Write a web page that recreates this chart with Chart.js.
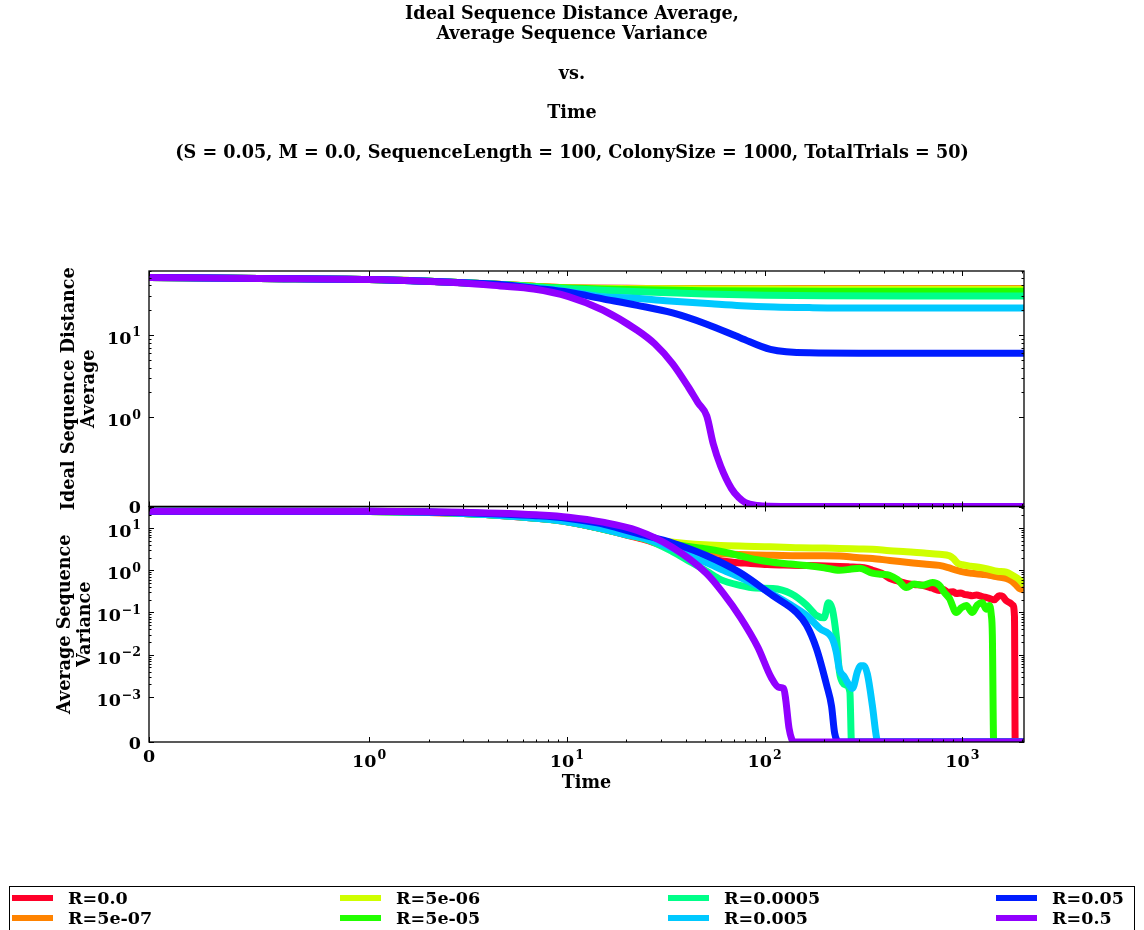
<!DOCTYPE html>
<html>
<head>
<meta charset="utf-8">
<script src="https://cdn.jsdelivr.net/npm/chart.js@4.4.1/dist/chart.umd.min.js"></script>
<style>
  html, body { margin: 0; padding: 0; background: #fff; }
  #wrap { position: relative; width: 1144px; height: 930px; overflow: hidden; background: #fff; }
  #c { position: absolute; left: 0; top: 0; }
  #legend { position: absolute; left: 9px; top: 886px; width: 1126px; height: 60px; border: 1px solid #000; box-sizing: border-box; }
  .sw { position: absolute; width: 41px; height: 6px; }
  .lt { position: absolute; font: bold 17.5px "DejaVu Serif"; line-height: 20px; color: #000; white-space: nowrap; }
</style>
</head>
<body>
<div id="wrap">
  <canvas id="c" width="1144" height="930" style="width:1144px;height:930px"></canvas>
  <div id="legend"></div>
</div>
<script>
// ---------------- data ----------------
const seriesLabels = ['R=0.0', 'R=5e-07', 'R=5e-06', 'R=5e-05', 'R=0.0005', 'R=0.005', 'R=0.05', 'R=0.5'];
const seriesColors = ['#ff0029', '#ff8300', '#cfff00', '#22ff00', '#00ff89', '#00c9ff', '#001cff', '#9100ff'];

const titleLines = ['Ideal Sequence Distance Average,', 'Average Sequence Variance', '', 'vs.', '', 'Time', '',
  '(S = 0.05, M = 0.0, SequenceLength = 100, ColonySize = 1000, TotalTrials = 50)'];
const topAxisTitle = ['Ideal Sequence Distance', 'Average'];
const botAxisTitle = ['Average Sequence', 'Variance'];
const xAxisTitle = 'Time';

const xMajorTicks = [0, 1, 10, 100, 1000];
const topMajorTicks = [0, 1, 10];
const botMajorTicks = [0, 0.001, 0.01, 0.1, 1, 10];

// Top panel: Ideal Sequence Distance Average
const distT_a = [0, 0.5, 1, 2, 3, 5, 7, 10, 15, 20, 30, 50, 100, 200, 500, 1000, 2050];
const dist_R0     = [50, 48.6, 47.2, 45.0, 43.3, 40.8, 38.8, 37.5, 37.0, 36.9, 36.8, 36.7, 36.6, 36.6, 36.5, 36.5, 36.5];
const dist_R5e_07 = [50, 48.6, 47.2, 45.0, 43.3, 40.8, 38.8, 37.5, 37.0, 36.8, 36.7, 36.6, 36.5, 36.4, 36.4, 36.4, 36.4];
const dist_R5e_06 = [50, 48.6, 47.2, 45.0, 43.3, 40.8, 38.8, 37.4, 36.8, 36.6, 36.4, 36.2, 36.1, 36.0, 36.0, 36.0, 36.0];
const dist_R5e_05 = [50, 48.6, 47.2, 45.0, 43.3, 40.8, 38.7, 37.2, 36.3, 35.8, 35.2, 34.6, 34.2, 34.0, 33.9, 33.9, 33.9];
const dist_R5e_04 = [50, 48.6, 47.2, 45.0, 43.2, 40.6, 38.4, 36.6, 35.0, 34.0, 32.8, 31.5, 30.5, 30.0, 29.8, 29.8, 29.8];
const distT_R5e_03 = [0, 0.5, 1, 2, 3, 5, 7, 10.2, 15.2, 21, 31.6, 54, 76, 112, 168, 300, 1000, 2050];
const dist_R5e_03  = [50, 48.6, 47.2, 45.0, 43.1, 40.3, 37.0, 33.6, 29.1, 28.2, 26.1, 23.9, 22.7, 21.9, 21.5, 21.2, 21.2, 21.2];
const distT_R5e_02 = [0, 0.5, 1, 2, 3, 4.6, 7, 10.2, 15.2, 22.7, 34.3, 51, 75.6, 107, 168, 300, 2050];
const dist_R5e_02  = [50, 48.6, 47.2, 45.0, 43.2, 41.0, 36.8, 33.0, 27.5, 22.9, 18.5, 13.5, 9.2, 6.67, 6.05, 6.0, 6.0];
const distT_R5e_01 = [0, 0.5, 1, 2, 3, 4.6, 6.8, 10.2, 15.2, 22.7, 27.8, 34.3, 41.3, 46, 51, 55, 60, 68, 74, 80, 92, 105, 130, 2050];
const dist_R5e_01  = [50, 48.6, 47.2, 44.8, 42.8, 39.4, 36.2, 29.3, 20.1, 11.4, 7.8, 4.45, 2.29, 1.5, 1.03, 0.7, 0.45, 0.2, 0.1, 0.044, 0.012, 0.002, 0.0003, 0];

// Bottom panel: Average Sequence Variance
const varT_R0 = [0, 1, 2, 3, 5, 8, 10, 15, 20, 25, 32, 40, 47, 57, 69, 85, 103, 125, 150, 190, 239, 270, 302, 330, 351, 390, 428, 470, 521, 570, 628, 700, 765, 800, 850, 900, 932, 980, 1020, 1070, 1123, 1180, 1250, 1300, 1368, 1450, 1537, 1600, 1667, 1740, 1800, 1835, 1850, 2050];
const var_R0  = [25, 24.5, 23.3, 22.0, 19.2, 16.0, 14.0, 9.5, 6.8, 5.2, 3.6, 2.8, 2.3, 1.75, 1.55, 1.45, 1.37, 1.33, 1.30, 1.27, 1.23, 1.2, 1.17, 1.1, 1.0, 0.85, 0.64, 0.56, 0.49, 0.46, 0.44, 0.38, 0.33, 0.35, 0.30, 0.31, 0.28, 0.29, 0.27, 0.26, 0.25, 0.26, 0.24, 0.23, 0.215, 0.2, 0.25, 0.24, 0.19, 0.17, 0.15, 0.08, 0, 0];
const varT_R5e_07 = [0, 1, 2, 3, 5, 8, 10, 15, 20, 25, 32, 40, 50, 60, 75, 90, 110, 150, 200, 239, 290, 351, 430, 521, 640, 765, 850, 932, 1020, 1123, 1250, 1368, 1500, 1667, 1780, 1875, 1940, 2050];
const var_R5e_07  = [25, 24.5, 23.3, 22.0, 19.3, 16.1, 14.1, 9.6, 7.0, 5.4, 4.0, 3.2, 2.75, 2.5, 2.35, 2.28, 2.25, 2.2, 2.2, 2.18, 2.0, 1.9, 1.7, 1.55, 1.4, 1.3, 1.15, 1.0, 0.9, 0.85, 0.8, 0.76, 0.7, 0.64, 0.55, 0.44, 0.37, 0.34];
const varT_R5e_06 = [0, 1, 2, 3, 5, 8, 10, 15, 20, 25, 32, 40, 50, 65, 80, 100, 125, 150, 200, 239, 300, 351, 430, 521, 640, 765, 860, 900, 950, 1000, 1100, 1250, 1368, 1500, 1667, 1800, 1940, 2050];
const var_R5e_06  = [25, 24.5, 23.4, 22.1, 19.4, 16.2, 14.2, 9.8, 7.2, 5.7, 4.8, 4.3, 4.0, 3.8, 3.7, 3.6, 3.5, 3.4, 3.35, 3.27, 3.2, 3.15, 2.9, 2.75, 2.55, 2.4, 2.2, 1.9, 1.45, 1.35, 1.25, 1.15, 1.05, 0.95, 0.9, 0.75, 0.6, 0.45];
const varT_R5e_05 = [0, 1, 2, 3, 5, 8, 10, 15, 20, 25, 32, 40, 51, 62, 75, 90, 110, 135, 163, 200, 239, 270, 302, 351, 390, 428, 470, 521, 570, 628, 706, 765, 810, 860, 932, 990, 1047, 1123, 1190, 1262, 1320, 1368, 1400, 1418, 1440, 2050];
const var_R5e_05  = [25, 24.5, 23.4, 22.1, 19.4, 16.2, 14.2, 9.7, 7.1, 5.6, 4.4, 3.7, 3.2, 2.7, 2.2, 1.8, 1.55, 1.4, 1.3, 1.15, 1.0, 1.05, 1.12, 0.85, 0.8, 0.76, 0.6, 0.39, 0.47, 0.44, 0.51, 0.44, 0.3, 0.215, 0.10, 0.13, 0.147, 0.10, 0.15, 0.17, 0.12, 0.147, 0.09, 0.03, 0, 0];
const varT_R5e_04 = [0, 1, 2, 3, 5, 8, 10, 15, 20, 25, 34, 42, 51, 60, 75, 90, 110, 136, 163, 183, 200, 210, 220, 231, 239, 248, 259, 270, 275, 2050];
const var_R5e_04  = [25, 24.5, 23.4, 22.1, 19.3, 16.0, 14.0, 9.6, 6.9, 5.4, 2.8, 1.6, 0.95, 0.6, 0.44, 0.38, 0.37, 0.28, 0.15, 0.085, 0.075, 0.17, 0.12, 0.025, 0.004, 0.0022, 0.0019, 0.0013, 0, 0];
const varT_R5e_03 = [0, 1, 2, 3, 5, 8, 10, 15, 20, 25, 34, 42, 51, 62, 75, 90, 110, 136, 163, 190, 220, 230, 239, 253, 268, 278, 295, 305, 318, 331, 351, 368, 375, 2050];
const var_R5e_03  = [25, 24.5, 23.4, 22.1, 19.3, 16.0, 14.0, 9.7, 7.0, 5.6, 3.3, 2.2, 1.5, 1.0, 0.68, 0.45, 0.27, 0.15, 0.085, 0.042, 0.024, 0.012, 0.0045, 0.003, 0.0019, 0.0016, 0.004, 0.0055, 0.0055, 0.0035, 0.0008, 0.0001, 0, 0];
const varT_R5e_02 = [0, 1, 2, 3, 4.6, 7, 10, 14.7, 18, 23.4, 34.3, 51, 75, 110, 145, 163, 183, 206, 218, 226, 239, 2050];
const var_R5e_02  = [25, 24.7, 24.0, 23.0, 21.5, 19.5, 17.0, 12.8, 10, 7.2, 4.4, 2.2, 0.88, 0.25, 0.1, 0.05, 0.014, 0.0019, 0.0008, 0.0002, 0, 0];
const varT_R5e_01 = [0, 1, 2, 3, 4.6, 7, 10.2, 15.2, 22.7, 34.1, 50.9, 62, 75.4, 92.5, 108, 118, 125, 128, 133, 141, 2050];
const var_R5e_01  = [25, 24.8, 24.3, 23.5, 22.4, 20.5, 18.0, 13.7, 8.7, 3.5, 0.84, 0.28, 0.077, 0.015, 0.0029, 0.0017, 0.0016, 0.00093, 0.0003, 0, 0];

const distSeries = [
  [distT_a, dist_R0], [distT_a, dist_R5e_07], [distT_a, dist_R5e_06], [distT_a, dist_R5e_05],
  [distT_a, dist_R5e_04], [distT_R5e_03, dist_R5e_03], [distT_R5e_02, dist_R5e_02], [distT_R5e_01, dist_R5e_01]
];
const varSeries = [
  [varT_R0, var_R0], [varT_R5e_07, var_R5e_07], [varT_R5e_06, var_R5e_06], [varT_R5e_05, var_R5e_05],
  [varT_R5e_04, var_R5e_04], [varT_R5e_03, var_R5e_03], [varT_R5e_02, var_R5e_02], [varT_R5e_01, var_R5e_01]
];

// ---------------- symlog scale ----------------
class SymlogScale extends Chart.Scale {
  parse(raw) {
    if (raw === null || raw === undefined) return null;
    const v = +raw;
    return isFinite(v) ? v : null;
  }
  determineDataLimits() {
    const mm = this.getMinMax(true);
    const o = this.options;
    this.min = (typeof o.min === 'number') ? o.min : mm.min;
    this.max = (typeof o.max === 'number') ? o.max : mm.max;
  }
  buildTicks() {
    const vals = this.options.majorValues || [];
    const out = [];
    for (let i = 0; i < vals.length; i++) {
      const v = vals[i];
      if (v >= this.min && v <= this.max) out.push({ value: v });
    }
    return out;
  }
  _tr(v) {
    const lt = this.options.linthresh, ld = this.options.linDecades;
    const a = Math.abs(v);
    const t = a <= lt ? (a / lt) * ld : ld + Math.log10(a / lt);
    return v < 0 ? -t : t;
  }
  _inv(t) {
    const lt = this.options.linthresh, ld = this.options.linDecades;
    const a = Math.abs(t);
    const v = a <= ld ? (a / ld) * lt : lt * Math.pow(10, a - ld);
    return t < 0 ? -v : v;
  }
  getPixelForValue(v) {
    const t0 = this._tr(this.min), t1 = this._tr(this.max);
    return this.getPixelForDecimal((this._tr(v) - t0) / (t1 - t0));
  }
  getValueForPixel(p) {
    const t0 = this._tr(this.min), t1 = this._tr(this.max);
    return this._inv(t0 + this.getDecimalForPixel(p) * (t1 - t0));
  }
  getPixelForTick(index) {
    const ticks = this.ticks;
    if (index < 0 || index > ticks.length - 1) return null;
    return this.getPixelForValue(ticks[index].value);
  }
  getLabelForValue(v) { return String(v); }
}
SymlogScale.id = 'symlog';
SymlogScale.defaults = {};
Chart.register(SymlogScale);

function minorValues(majors, max) {
  const out = [];
  majors.forEach(m => {
    if (m > 0) for (let k = 2; k < 10; k++) { const v = m * k; if (v <= max) out.push(v); }
  });
  return out;
}

const FONT = 'DejaVu Serif';
const BASE_PX = 17.5, EXP_PX = 12.5;

// label parts: base text and exponent text (mathtext-like 10^n)
function labelParts(v) {
  if (v === 0) return { base: '0', exp: '' };
  const e = Math.round(Math.log10(Math.abs(v)));
  return { base: '10', exp: String(e).replace('-', '\u2212') };
}
function measureLabel(ctx, parts) {
  ctx.font = 'bold ' + BASE_PX + 'px "' + FONT + '"';
  const wb = ctx.measureText(parts.base).width;
  let we = 0;
  if (parts.exp) { ctx.font = 'bold ' + EXP_PX + 'px "' + FONT + '"'; we = ctx.measureText(parts.exp).width + 1; }
  return { wb, we, w: wb + we };
}
function drawLabel(ctx, parts, xLeft, baseline) {
  const m = measureLabel(ctx, parts);
  ctx.textAlign = 'left';
  ctx.textBaseline = 'alphabetic';
  ctx.font = 'bold ' + BASE_PX + 'px "' + FONT + '"';
  ctx.fillText(parts.base, xLeft, baseline);
  if (parts.exp) {
    ctx.font = 'bold ' + EXP_PX + 'px "' + FONT + '"';
    ctx.fillText(parts.exp, xLeft + m.wb + 1, baseline - 7.5);
  }
}

// ---------------- frames, inward ticks, tick labels ----------------
const frameTicks = {
  id: 'frameTicks',
  afterDatasetsDraw(chart) {
    const ctx = chart.ctx;
    const xs = chart.scales.x;
    const panels = [chart.scales.yTop, chart.scales.yBot];
    const xMin = minorValues(xMajorTicks, xs.max);
    ctx.save();
    ctx.strokeStyle = '#000';
    panels.forEach(ys => {
      const L = xs.left, R = xs.right, T = ys.top, B = ys.bottom;
      const yMajors = ys.options.majorValues;
      const yMin = minorValues(yMajors, ys.max);
      ctx.lineWidth = 1;
      ctx.beginPath();
      const tk = (len, vals, horiz) => {
        vals.forEach(v => {
          if (horiz) {
            if (v < xs.min || v > xs.max) return;
            const p = Math.round(xs.getPixelForValue(v)) + 0.5;
            ctx.moveTo(p, B); ctx.lineTo(p, B - len);
            ctx.moveTo(p, T); ctx.lineTo(p, T + len);
          } else {
            if (v < ys.min || v > ys.max) return;
            const p = Math.round(ys.getPixelForValue(v)) + 0.5;
            ctx.moveTo(L, p); ctx.lineTo(L + len, p);
            ctx.moveTo(R, p); ctx.lineTo(R - len, p);
          }
        });
      };
      tk(5, xMajorTicks, true);
      tk(2.5, xMin, true);
      tk(5, yMajors, false);
      tk(2.5, yMin, false);
      ctx.stroke();
      ctx.lineWidth = 1.3;
      ctx.strokeRect(L, T, R - L, B - T);
    });
    ctx.restore();
  },
  afterDraw(chart) {
    const ctx = chart.ctx;
    const xs = chart.scales.x;
    ctx.save();
    ctx.fillStyle = '#000';
    [chart.scales.yTop, chart.scales.yBot].forEach(ys => {
      ys.options.majorValues.forEach(v => {
        if (v < ys.min || v > ys.max) return;
        const p = ys.getPixelForValue(v);
        const parts = labelParts(v);
        const m = measureLabel(ctx, parts);
        const baseline = p + (parts.exp ? 9 : 6.5);
        drawLabel(ctx, parts, xs.left - 8 - m.w, baseline);
      });
    });
    const top = xs.top + 7.5;
    xMajorTicks.forEach(v => {
      if (v < xs.min || v > xs.max) return;
      const p = xs.getPixelForValue(v);
      const parts = labelParts(v);
      const m = measureLabel(ctx, parts);
      const baseline = top + (parts.exp ? 17 : 12.8);
      drawLabel(ctx, parts, p - m.w / 2, baseline);
    });
    ctx.restore();
  }
};

// ---------------- datasets ----------------
const datasets = [];
distSeries.forEach((s, i) => {
  datasets.push({
    label: seriesLabels[i],
    data: s[0].map((t, j) => ({ x: t, y: s[1][j] })),
    yAxisID: 'yTop', xAxisID: 'x',
    borderColor: seriesColors[i], backgroundColor: seriesColors[i],
    borderWidth: 7, pointRadius: 0, fill: false,
    cubicInterpolationMode: 'monotone', borderCapStyle: 'butt', borderJoinStyle: 'round',
    order: 20 - i,
    clip: 0
  });
});
varSeries.forEach((s, i) => {
  datasets.push({
    label: seriesLabels[i],
    data: s[0].map((t, j) => ({ x: t, y: s[1][j] })),
    yAxisID: 'yBot', xAxisID: 'x',
    borderColor: seriesColors[i], backgroundColor: seriesColors[i],
    borderWidth: 7, pointRadius: 0, fill: false,
    cubicInterpolationMode: 'monotone', borderCapStyle: 'butt', borderJoinStyle: 'round',
    order: 10 - i,
    clip: 0
  });
});

const titleFont = { family: FONT, size: 17.6, weight: 'bold', lineHeight: 1.125 };

new Chart(document.getElementById('c'), {
  type: 'line',
  data: { datasets },
  plugins: [frameTicks],
  options: {
    responsive: false,
    animation: false,
    devicePixelRatio: 1,
    events: [],
    layout: { padding: { left: 0, right: 0, top: 0, bottom: 128 } },
    plugins: {
      legend: { display: false },
      tooltip: { enabled: false },
      title: {
        display: true, text: titleLines, color: '#000', font: titleFont,
        padding: { top: 5, bottom: 107.6 }
      }
    },
    scales: {
      x: {
        type: 'symlog', position: 'bottom', min: 0, max: 2050,
        linthresh: 1, linDecades: 1.113, majorValues: xMajorTicks,
        grid: { display: false, drawTicks: false }, border: { display: false },
        ticks: { display: false },
        title: { display: true, text: xAxisTitle, color: '#000', font: titleFont, padding: { top: 0, bottom: 9 } },
        afterFit: (s) => { s.height = 60; }
      },
      yBot: {
        type: 'symlog', position: 'left', stack: 'panels', stackWeight: 1, min: 0, max: 32.2,
        linthresh: 0.001, linDecades: 1.064, majorValues: botMajorTicks,
        grid: { display: false, drawTicks: false }, border: { display: false },
        ticks: { display: false },
        title: { display: true, text: botAxisTitle, color: '#000', font: titleFont, padding: { top: 56, bottom: 0 } },
        afterFit: (s) => { s.width = 149; }
      },
      yTop: {
        type: 'symlog', position: 'left', stack: 'panels', stackWeight: 1, min: 0, max: 60,
        linthresh: 1, linDecades: 1.089, majorValues: topMajorTicks,
        grid: { display: false, drawTicks: false }, border: { display: false },
        ticks: { display: false },
        title: { display: true, text: topAxisTitle, color: '#000', font: titleFont, padding: { top: 60, bottom: 0 } },
        afterFit: (s) => { s.width = 149; }
      },
      ySpacer: {
        type: 'linear', position: 'right', display: true,
        grid: { display: false, drawTicks: false }, border: { display: false },
        ticks: { display: false },
        afterFit: (s) => { s.width = 120; }
      }
    }
  }
});

// ---------------- HTML legend (column-major, 4 columns x 2 rows) ----------------
const legendEl = document.getElementById('legend');
const colLeft = [2, 330, 658, 986];
const rowMid = [11, 31];
seriesLabels.forEach((lab, i) => {
  const col = Math.floor(i / 2), row = i % 2;
  const sw = document.createElement('div');
  sw.className = 'sw';
  sw.style.background = seriesColors[i];
  sw.style.left = colLeft[col] + 'px';
  sw.style.top = (rowMid[row] - 3) + 'px';
  legendEl.appendChild(sw);
  const tx = document.createElement('div');
  tx.className = 'lt';
  tx.textContent = lab;
  tx.style.left = (colLeft[col] + 56) + 'px';
  tx.style.top = (rowMid[row] - 10) + 'px';
  legendEl.appendChild(tx);
});
</script>
</body>
</html>
